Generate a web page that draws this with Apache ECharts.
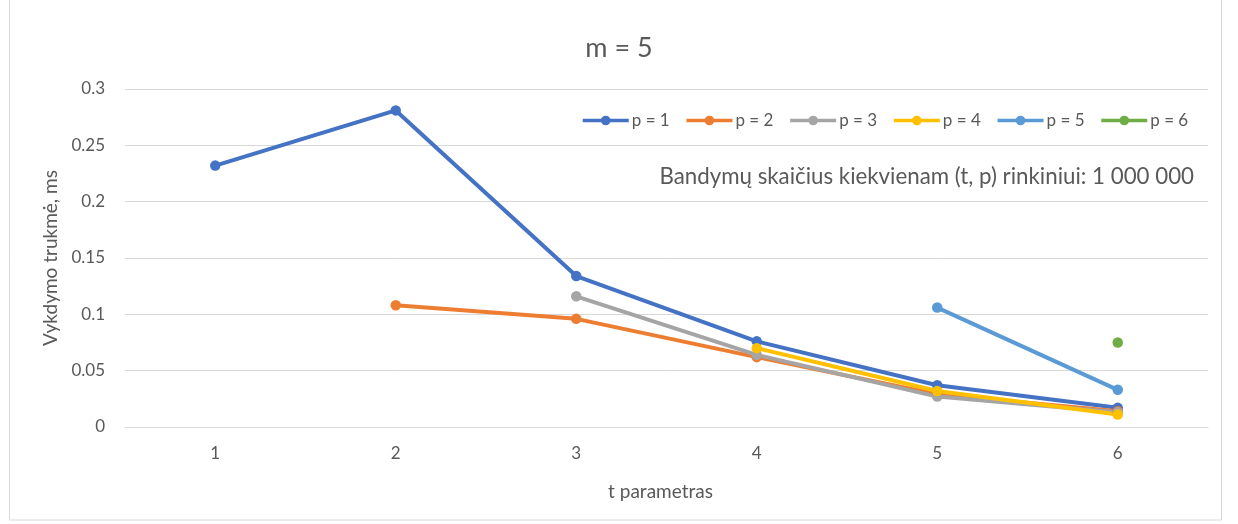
<!DOCTYPE html>
<html>
<head>
<meta charset="utf-8">
<script src="https://cdn.jsdelivr.net/npm/echarts@6/dist/echarts.min.js"></script>
<style>
  html, body { margin: 0; padding: 0; background: #fff; }
  #chart { width: 1238px; height: 524px; }
</style>
</head>
<body>
<div id="chart"></div>
<script>
// t parameter values on the x axis
const tValues = ['1', '2', '3', '4', '5', '6'];

// Execution time (ms) for each p; null where the (t, p) pair was not measured
const p1 = [0.232, 0.281, 0.134, 0.076, 0.037, 0.017];
const p2 = [null, 0.108, 0.096, 0.062, 0.029, 0.014];
const p3 = [null, null, 0.116, 0.064, 0.027, 0.013];
const p4 = [null, null, null, 0.070, 0.032, 0.011];
const p5 = [null, null, null, null, 0.106, 0.033];
const p6 = [null, null, null, null, null, 0.075];

const seriesNames = ['p = 1', 'p = 2', 'p = 3', 'p = 4', 'p = 5', 'p = 6'];
const seriesData = [p1, p2, p3, p4, p5, p6];
const colors = ['#4472C4', '#ED7D31', '#A5A5A5', '#FFC000', '#5B9BD5', '#70AD47'];

const yTicks = [0, 0.05, 0.1, 0.15, 0.2, 0.25, 0.3];

const FONT = 'Lato, "Open Sans", sans-serif';
const TEXT = '#595959';

const chart = echarts.init(document.getElementById('chart'), null, { renderer: 'canvas' });

chart.setOption({
  animation: false,
  color: colors,
  textStyle: { fontFamily: FONT, color: TEXT },
  title: {
    text: 'm = 5',
    left: 'center',
    top: 30,
    textStyle: { fontFamily: FONT, fontSize: 27, fontWeight: 'normal', color: TEXT }
  },
  legend: {
    data: seriesNames,
    top: 107,
    left: 576,
    itemWidth: 46,
    itemHeight: 12,
    itemGap: 15,
    lineStyle: { width: 3.5 },
    textStyle: { fontFamily: FONT, fontSize: 17, color: TEXT, padding: [0, 0, 0, -2] }
  },
  grid: { left: 125, right: 30, top: 89, bottom: 97 },
  xAxis: {
    type: 'category',
    data: tValues,
    boundaryGap: true,
    name: 't parametras',
    nameLocation: 'middle',
    nameGap: 55,
    nameTextStyle: { fontFamily: FONT, fontSize: 19, color: TEXT, padding: [0, 12, 0, 0] },
    axisLine: { lineStyle: { color: '#d9d9d9', width: 1 } },
    axisTick: { show: false },
    axisLabel: { margin: 18, fontFamily: FONT, fontSize: 17, color: TEXT }
  },
  yAxis: {
    type: 'value',
    min: yTicks[0],
    max: yTicks[yTicks.length - 1],
    interval: 0.05,
    name: 'Vykdymo trukmė, ms',
    nameLocation: 'middle',
    nameGap: 64,
    nameTextStyle: { fontFamily: FONT, fontSize: 19, color: TEXT },
    axisLine: { show: false },
    axisTick: { show: false },
    splitLine: { lineStyle: { color: '#d9d9d9', width: 1 } },
    axisLabel: { margin: 20, fontFamily: FONT, fontSize: 17, color: TEXT }
  },
  graphic: [
    {
      type: 'rect',
      silent: true,
      shape: { x: 9.5, y: -2, width: 1212, height: 522 },
      style: { fill: 'none', stroke: '#d9d9d9', lineWidth: 1 }
    },
    {
      type: 'text',
      silent: true,
      right: 1238 - 1194,
      top: 166,
      style: {
        text: 'Bandymų skaičius kiekvienam (t, p) rinkiniui: 1 000 000',
        fontFamily: FONT,
        fontSize: 22.3,
        fill: TEXT
      }
    }
  ],
  series: seriesData.map((d, i) => ({
    name: seriesNames[i],
    type: 'line',
    data: d,
    symbol: 'circle',
    symbolSize: 10.5,
    showSymbol: true,
    showAllSymbol: true,
    connectNulls: false,
    lineStyle: { width: 4, color: colors[i] },
    itemStyle: { color: colors[i] }
  }))
});
</script>
</body>
</html>
